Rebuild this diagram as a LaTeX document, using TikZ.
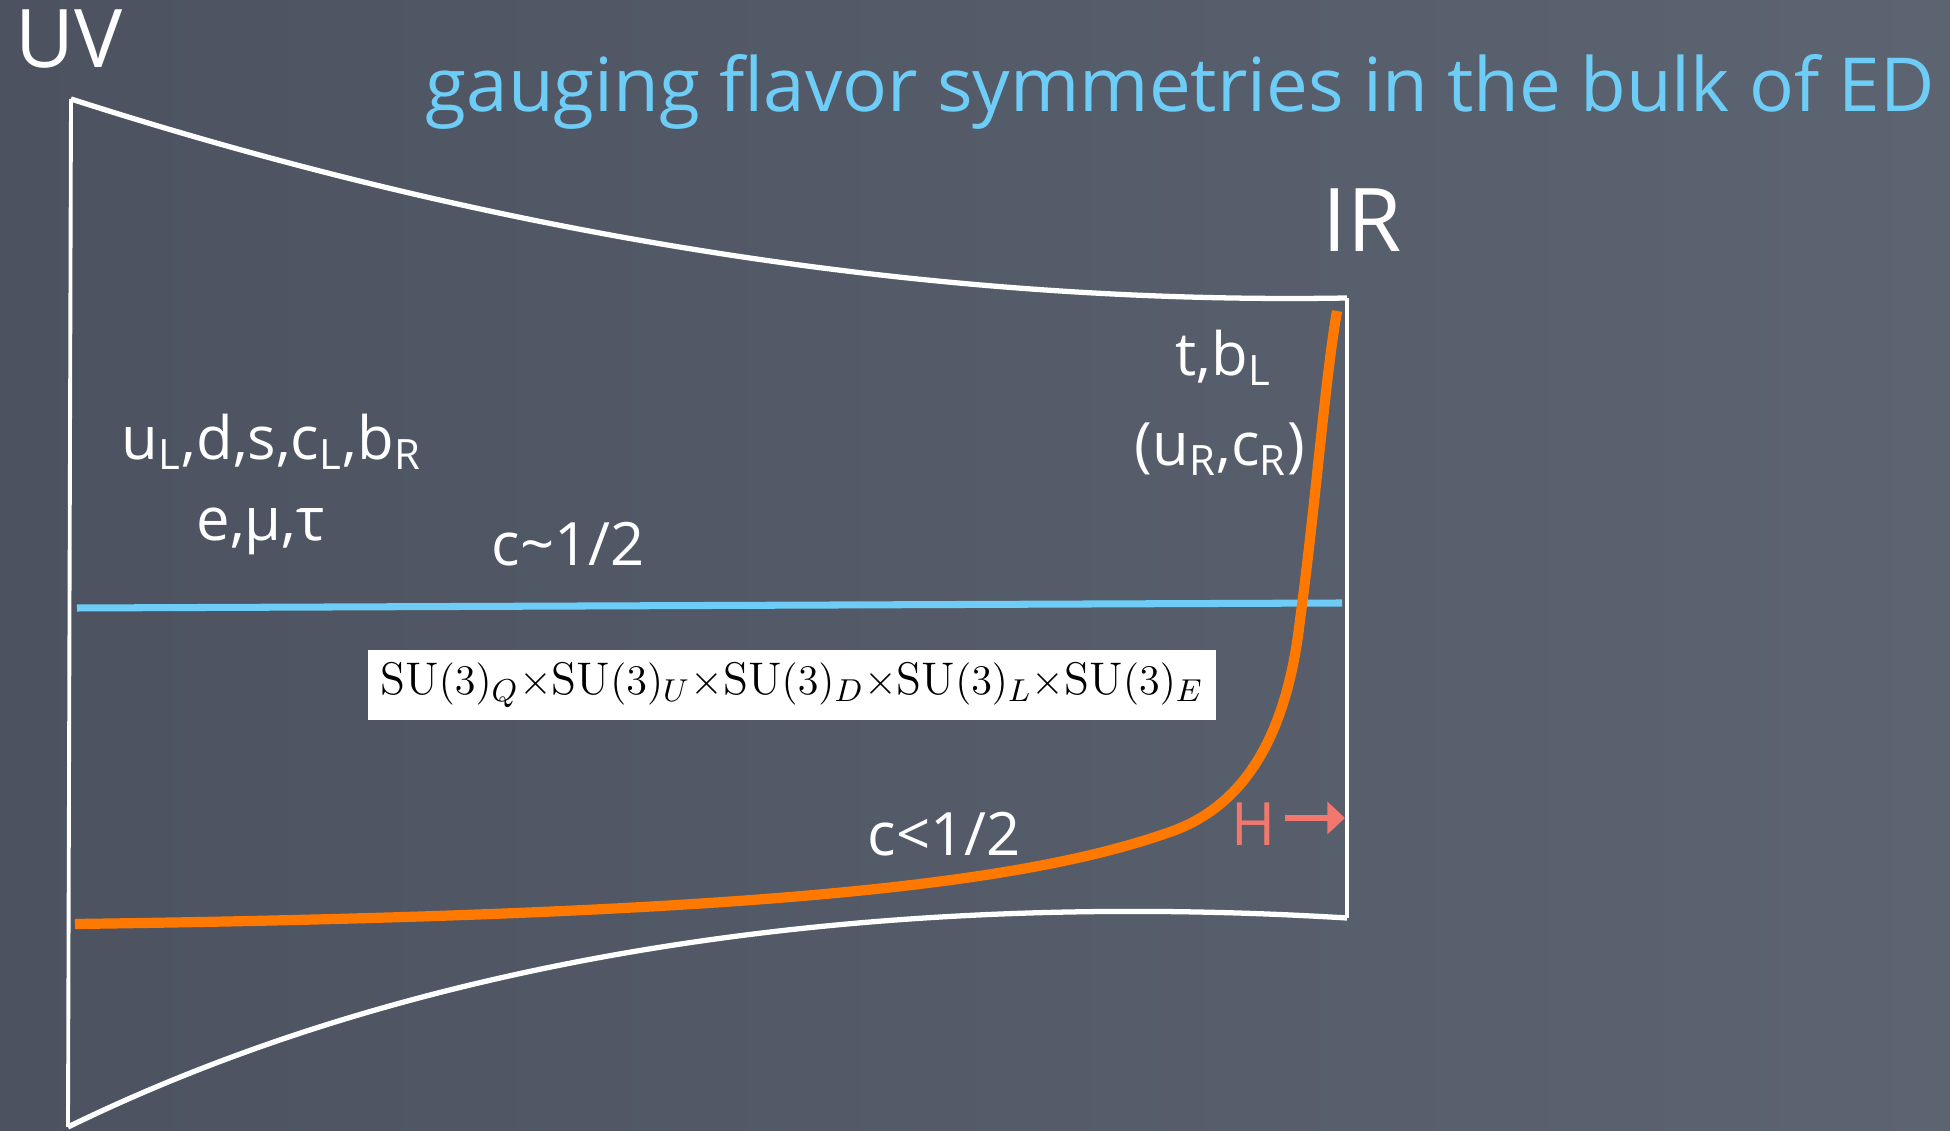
\documentclass[tikz,border=0pt]{standalone}
\usepackage{fontspec}
\usepackage{tikz}
\usetikzlibrary{arrows.meta,positioning}
\newfontfamily\chalkfont{Open Sans}
\definecolor{BoardBG}    {HTML}{555C6A}
\definecolor{BoardDark}  {HTML}{4C5260}
\definecolor{BoardLight} {HTML}{5C6371}
\definecolor{ChalkBlue}  {HTML}{6ECDF6}
\definecolor{ChalkOrange}{HTML}{FF7800}
\definecolor{ChalkRed}   {HTML}{F2786E}

\begin{document}
\begin{tikzpicture}[x=0.01cm,y=-0.01cm,
    chalk/.style={text=white,font=\chalkfont\fontsize{17}{20}\selectfont,inner sep=0pt},
    big/.style={chalk,font=\chalkfont\fontsize{23}{26}\selectfont},
    wall/.style={draw=white,line width=1.5pt},
    arr/.style={-{Triangle[length=5pt,width=9pt]},color=ChalkRed,line width=1.8pt}]
    \shade[shading angle=60,left color=BoardDark,right color=BoardLight] (0,0) rectangle (1950,1131);
    \useasboundingbox (0,0) rectangle (1950,1131);
    % frame of the extra dimension
    \coordinate (uvtop) at (71,99);  \coordinate (uvbot) at (68,1127);
    \coordinate (irtop) at (1347,298); \coordinate (irbot) at (1347,918);
    \draw[wall,line width=1.1pt] (uvtop) -- (uvbot);
    \draw[wall,line width=1.1pt] (irtop) -- (irbot);
    \draw[wall] (uvtop) .. controls (497,236) and (933,305) .. (irtop);
    \draw[wall] (uvbot) .. controls (420,955) and (870,889) .. (irbot);
    % profiles
    \coordinate (cl) at (77,608); \coordinate (cr) at (1342,603);
    \draw[ChalkBlue,line width=2pt] (cl) -- (cr);
    \draw[ChalkOrange,line width=2.9pt] (75,924) .. controls (750,915) and (1020,885) .. (1170,832)
      .. controls (1245,806) and (1287,735) .. (1300,620)
      .. controls (1315,510) and (1325,380) .. (1337,311);
    % labels
    \node[big,anchor=base west] (uv) at (15,68) {UV};
    \node[big,anchor=base west,font=\chalkfont\fontsize{25}{28}\selectfont] (ir) at (1322,252) {IR};
    \node[chalk,anchor=base west,text=ChalkBlue,font=\chalkfont\fontsize{21.2}{25}\selectfont]
      (title) at (425,112) {gauging flavor symmetries in the bulk of ED};
    \node[chalk,anchor=base west] (light) at (121,460)
      {u\textsubscript{L},d,s,c\textsubscript{L},b\textsubscript{R}};
    \node[chalk,anchor=base west] (lept) at (196,541) {e,μ,τ};
    \node[chalk,anchor=base west] (chalf) at (491,566) {c\textasciitilde1/2};
    \node[chalk,anchor=base west] (heavy) at (1175,376) {t,b\textsubscript{L}};
    \node[chalk,anchor=base west] (right) at (1134,466) {(u\textsubscript{R},c\textsubscript{R})};
    \node[chalk,anchor=base west] (cless) at (867,856) {c<1/2};
    \node[fill=white,minimum width=8.48cm,minimum height=0.7cm,inner sep=0pt,
      font=\fontsize{13}{15}\selectfont] (grp) at (792,685)
      {$\mathrm{SU}(3)_Q{\times}\mathrm{SU}(3)_U{\times}\mathrm{SU}(3)_D{\times}\mathrm{SU}(3)_L{\times}\mathrm{SU}(3)_E$};
    \node[chalk,anchor=base west,text=ChalkRed] (higgs) at (1231,846) {H};
    \coordinate (hend) at (1345,818);
    \draw[arr] (higgs.east |- hend) ++(8,0) -- (hend);
\end{tikzpicture}
\end{document}
